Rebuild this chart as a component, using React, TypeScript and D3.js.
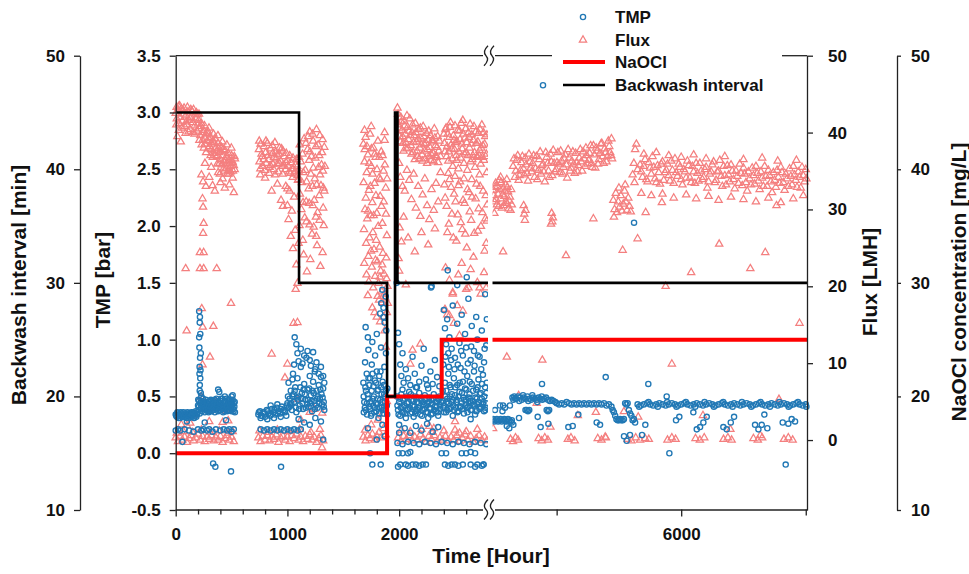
import React, { useEffect, useRef } from 'react';
import * as d3 from 'd3';

const W = 969;
const H = 574;
const FONT = '"Liberation Sans", Arial, Helvetica, sans-serif';
const TMP_COLOR = '#2178b5';
const FLUX_COLOR = '#f47f7f';

// plot frame
const plotLeft = 175.7;
const plotRight = 807;
const plotTop = 55.7;
const plotBottom = 510;
const breakX = 489;

// tick values
const timeTicksLeft = [0, 200, 400, 600, 800, 1000, 1200, 1400, 1600, 1800, 2000, 2200, 2400, 2600];
const timeTicksRight = [4000, 6000, 8000];
const timeLabels = [0, 1000, 2000, 6000];
const tmpTicks = [-0.5, 0, 0.5, 1.0, 1.5, 2.0, 2.5, 3.0, 3.5];
const fluxTicks = [0, 10, 20, 30, 40, 50];
const bwTicks = [10, 20, 30, 40, 50];
const naTicks = [10, 20, 30, 40, 50];

// step series
const bwTimes = [0, 1104, 1892, 1963, 1985, 8020];
const bwValues = [45, 30, 20, 45, 30, 30];
const naTimes = [0, 1892, 2381, 8020];
const naValues = [15, 20, 25, 25];

// Flux [LMH] (time h, flux)
const fluxRunA: [number, number][] = [
  [0,42.5],[10,41.8],[20,42.9],[30,41.2],[40,42.0],[50,43.1],[60,41.5],[70,42.4],[80,40.8],[90,42.2],[100,41.0],[110,42.7],[120,41.6],[130,40.4],[140,42.0],[150,41.3],[160,43.0],[170,40.9],[180,41.8],[190,40.2],[200,41.1],
  [15,39.5],[45,38.8],[25,43.4],[65,42.9],[105,43.3],[145,42.8],[185,42.6],
  [210,40.5],[220,39.6],[230,41.2],[240,39.0],[250,40.3],[260,38.5],[270,39.8],[280,38.9],[290,40.1],[300,38.2],[310,39.4],[320,37.8],[330,38.9],[340,37.3],[350,39.2],[360,38.0],[370,36.9],[380,38.6],[390,37.4],[400,36.5],[410,38.1],[420,37.0],[430,36.2],[440,37.7],[450,36.8],[460,35.9],[470,37.3],[480,36.4],[490,35.6],[500,37.0],[510,36.1],[520,35.7],[530,36.6],
  [205,41.6],[225,40.8],[245,40.0],[265,39.3],[285,39.9],[305,39.0],[325,38.5],[345,38.7],[365,37.6],[385,37.9],[405,37.6],[425,37.8],[445,36.4],[465,36.8],[485,36.0],[505,36.3],[525,36.9],
  [230,34.5],[245,33.6],[270,33.0],[300,34.2],[330,33.1],[350,32.4],[380,34.8],[400,33.5],[420,34.0],[440,32.8],[460,34.6],[480,33.2],[510,34.1],[520,32.2],
  [240,31.4],[245,30.3],[250,28.2],[245,26.9],[250,24.4],[250,22.3],[89,22.3],[217,24.4],[217,22.3],[367,22.3],
  [495,17.8],[98,14.2],[337,14.8],[233,17.1],[307,10.8],[242,14.7],[240,9.8],
  [225,5.6],[240,5.4],[160,3.2],[130,2.2],[300,2.4],[420,2.3],[470,2.5],[50,2.0],[100,1.9],[360,5.0],[450,3.8],
];
const fluxRunADense: [number, number][] = [
  [5,41.0],[35,43.5],[55,40.6],[75,43.2],[95,41.4],[115,40.1],[135,43.0],[155,40.0],[175,42.4],[195,42.3],[8,43.3],[28,40.3],[88,39.9],[128,41.9],[168,39.8],
  [212,39.0],[232,38.4],[252,38.0],[272,37.4],[292,37.9],[312,37.0],[332,36.8],[352,37.0],[372,35.9],[392,36.0],[412,35.8],[432,35.4],[452,35.3],[472,35.1],[492,34.9],[512,35.0],[528,35.2],
  [208,42.4],[258,40.9],[298,40.6],[338,39.8],[378,39.6],[418,38.8],[458,38.4],[498,38.0],[262,36.0],[318,35.5],[395,34.6],[435,35.0],[475,34.6],
];
const fluxRunB: [number, number][] = [
  [745,37.8],[760,38.5],[775,36.9],[790,38.2],[805,37.4],[820,38.6],[835,36.5],[850,37.9],[865,38.3],[880,36.8],[895,37.5],[910,35.9],[925,37.2],[940,36.3],[955,35.6],[970,36.9],[985,35.2],[1000,36.4],[1015,34.9],[1030,36.1],[1045,35.3],[1060,34.6],[1075,35.8],[1090,34.4],
  [750,36.2],[780,35.6],[810,36.0],[840,35.5],[870,35.9],[900,36.6],[930,38.0],[960,37.6],[990,37.3],[1020,37.0],[1050,36.7],[1080,36.5],[1100,35.0],
  [757,34.5],[800,34.1],[859,32.4],[889,34.5],[943,31.2],[910,33.3],[960,30.4],[1000,32.7],
  [985,33.0],[1000,30.5],[1010,28.7],[1020,32.4],[1030,26.5],[1040,29.8],[1050,24.9],[1060,31.6],[1070,27.3],[1080,22.8],[1090,20.4],[1095,33.8],[1100,25.6],[1110,38.4],[1120,36.2],[1130,33.5],[1140,30.9],[1150,39.2],[1160,35.1],[1170,28.4],[1180,37.8],[1190,32.7],[1200,40.1],[1210,34.6],[1220,26.8],[1230,38.9],[1240,31.2],[1250,36.7],[1260,40.4],[1270,29.6],[1280,35.5],[1290,39.6],[1300,33.1],[1310,37.4],[1320,30.2],[1330,38.1],
  [1145,24.1],[1175,21.9],[1205,23.5],[1235,27.7],[1265,25.3],[1295,22.6],[1325,27.9],[1185,39.5],[1215,36.9],[1245,34.0],[1275,38.4],[1305,35.8],[1125,30.0],[1155,28.9],[1195,30.8],[1225,33.0],[1255,29.0],[1285,31.8],[1315,24.4],
  [859,11.2],[978,8.1],[1000,9.9],[1074,19.6],[1055,15.2],[1090,15.3],[1095,5.3],[1200,3.6],[1311,3.5],[1120,2.6],[1240,4.0],[1290,1.4],
];
const fluxRunBDense: [number, number][] = [
  [748,38.9],[768,37.2],[788,36.5],[808,38.9],[828,37.0],[848,35.7],[868,37.3],[888,38.7],[908,37.1],[928,36.0],[948,37.9],[968,35.8],[988,36.1],[1008,35.6],[1028,34.7],[1048,34.2],[1068,34.9],[1088,35.6],[1098,33.9],[758,35.3],[798,35.1],[838,34.7],[878,35.2],[918,34.9],[958,34.6],
  [1105,36.8],[1135,37.2],[1165,38.6],[1195,36.4],[1225,39.8],[1255,38.2],[1285,37.0],[1315,39.1],[1335,35.6],[1112,32.0],[1142,34.8],[1172,33.6],[1202,37.5],[1232,35.4],[1262,33.2],[1292,34.5],[1322,32.8],[1108,27.9],[1138,26.0],[1168,31.0],[1198,28.0],[1228,30.5],[1258,26.5],[1288,28.6],[1318,35.0],[1330,32.4],
];
const fluxRunC: [number, number][] = [
  [1680,38.5],[1690,36.2],[1700,39.4],[1710,34.8],[1720,37.1],[1730,32.5],[1740,39.8],[1750,35.6],[1760,30.9],[1770,38.0],[1780,33.4],[1790,36.8],[1800,29.5],[1810,38.9],[1820,34.1],[1830,31.7],[1840,37.5],[1850,28.2],[1860,35.0],[1870,39.0],[1880,32.8],[1890,26.6],
  [1685,27.4],[1695,30.0],[1705,25.6],[1715,28.8],[1725,23.9],[1735,26.3],[1745,29.2],[1755,22.5],[1765,27.0],[1775,24.8],[1785,21.3],[1795,26.0],[1805,23.2],[1815,20.4],[1825,25.1],[1835,22.0],[1845,19.3],[1855,24.3],[1865,21.6],[1875,18.5],[1885,23.7],[1895,20.0],
  [1760,17.2],[1800,16.0],[1830,15.4],[1850,17.9],[1870,14.2],[1890,16.6],[1880,12.1],[1720,18.8],[1690,40.3],[1870,40.0],[1750,40.8],
  [1695,1.3],[1750,2.0],[1810,2.6],[1850,3.4],[1870,4.1],[1890,5.0],
  [1682,33.5],[1692,37.8],[1702,31.5],[1712,38.2],[1722,29.8],[1732,36.0],[1742,33.0],[1752,37.9],[1762,34.6],[1772,29.2],[1782,37.2],[1792,31.8],[1802,35.2],[1812,27.8],[1822,36.8],[1832,33.9],[1842,30.4],[1852,37.0],[1862,31.0],[1872,35.8],[1882,29.4],[1892,34.0],
  [1688,23.0],[1708,21.5],[1728,20.6],[1748,24.6],[1768,19.8],[1788,23.4],[1808,18.7],[1828,21.2],[1848,22.8],[1868,19.0],[1888,21.0],[1898,17.8],[1780,16.6],[1820,18.2],[1860,16.0],
];
const fluxRunD: [number, number][] = [
  [1985,43.2],[1995,41.0],[2005,39.5],[2015,42.0],[2025,40.3],[2035,38.6],[2045,41.5],[2055,39.8],[2065,37.9],[2075,40.7],[2085,39.1],[2095,41.8],[2105,38.3],[2115,40.0],[2125,37.4],[2135,39.6],[2145,41.2],[2155,38.8],[2165,36.9],[2175,40.4],[2185,38.0],[2195,39.3],[2205,37.1],[2215,40.8],[2225,38.5],[2235,36.6],[2245,39.9],[2255,37.8],[2265,40.2],[2275,38.1],[2285,36.4],[2295,39.0],[2305,37.3],[2315,40.5],[2325,38.3],[2335,36.8],[2345,39.5],[2355,37.6],
  [2000,36.0],[2010,34.2],[2030,33.0],[2050,32.4],[2070,35.1],[2090,33.8],[2110,31.3],[2130,34.6],[2150,30.2],[2170,33.0],[2190,29.1],[2210,31.9],[2230,34.0],[2250,30.5],[2270,28.7],[2290,32.6],[2310,29.9],[2330,33.4],[2350,31.0],[2370,34.8],[2005,27.6],[2020,25.8],[2040,29.0],[2080,26.3],[2200,27.0],[2260,25.4],[2320,27.5],[1995,23.6],[2000,22.0],[2060,20.2],[2120,11.7],[2140,24.5],
  [2400,39.8],[2410,37.5],[2420,40.6],[2430,38.2],[2440,36.3],[2450,39.4],[2460,41.3],[2470,37.9],[2480,35.6],[2490,39.0],[2500,40.9],[2510,37.0],[2520,38.8],[2530,35.3],[2540,40.2],[2550,36.7],[2560,38.5],[2570,41.6],[2580,36.0],[2590,39.3],[2600,37.4],[2610,35.1],[2620,40.0],[2630,38.0],[2640,36.2],[2650,39.7],[2660,37.0],[2670,40.8],[2680,35.5],[2690,38.6],[2700,36.9],[2710,39.9],[2720,37.7],[2730,35.9],[2740,41.0],[2750,38.3],[2760,36.4],[2770,39.5],[2780,37.2],[2785,34.8],
  [2405,33.2],[2425,30.4],[2445,28.1],[2465,32.9],[2485,26.3],[2505,31.0],[2525,29.3],[2545,33.6],[2565,27.4],[2585,30.8],[2605,25.0],[2625,32.2],[2645,28.6],[2665,23.8],[2685,31.4],[2705,27.2],[2725,33.0],[2745,29.6],[2765,24.6],[2775,31.8],[2785,28.5],[2415,22.4],[2450,20.8],[2480,19.2],[2530,21.5],[2560,23.0],[2600,19.6],[2640,22.2],[2700,20.5],[2760,21.8],[2780,19.8],[2780,25.6],[2440,34.7],[2500,34.3],[2580,34.0],[2650,33.9],[2720,34.5],
  [2410,17.0],[2430,16.3],[2450,16.2],[2480,19.0],[2490,15.2],[2520,17.5],[2540,13.6],[2570,16.8],[2620,19.8],[2720,19.8],[2730,19.0],[2100,9.9],[2190,12.5],[2500,2.4],[2540,0.9],[2270,1.8],[2310,1.5],
];
const fluxRunDDense: [number, number][] = [
  [1990,42.4],[2000,40.6],[2010,38.8],[2020,41.4],[2030,39.5],[2040,37.6],[2050,40.9],[2060,38.7],[2070,42.2],[2080,38.0],[2090,40.2],[2100,39.6],[2110,37.2],[2120,41.0],[2130,38.7],[2140,36.5],[2150,40.0],[2160,37.6],[2170,39.1],[2180,36.6],[2190,40.6],[2200,38.4],[2210,36.3],[2220,39.5],[2230,37.6],[2240,38.6],[2250,36.0],[2260,39.0],[2270,36.9],[2280,39.6],[2290,37.1],[2300,38.8],[2310,36.2],[2320,39.3],[2330,37.0],[2340,38.1],[2350,36.1],[2360,38.9],[2370,36.9],
  [2405,38.6],[2415,40.4],[2425,36.9],[2435,39.8],[2445,37.5],[2455,40.7],[2465,38.4],[2475,36.6],[2485,39.6],[2495,37.8],[2505,38.7],[2515,36.4],[2525,40.3],[2535,37.5],[2545,39.1],[2555,41.2],[2565,37.9],[2575,39.8],[2585,37.2],[2595,40.5],[2605,38.7],[2615,37.0],[2625,39.4],[2635,41.1],[2645,38.5],[2655,36.5],[2665,39.0],[2675,37.4],[2685,40.1],[2695,36.8],[2705,38.8],[2715,37.0],[2725,40.4],[2735,38.0],[2745,36.8],[2755,40.0],[2765,38.5],[2775,36.9],[2785,39.7],
  [2412,31.5],[2432,27.0],[2452,33.9],[2472,29.4],[2492,32.0],[2512,25.9],[2532,33.1],[2552,28.3],[2572,31.2],[2592,26.8],[2612,32.6],[2632,29.7],[2652,31.6],[2672,26.9],[2692,33.3],[2712,30.1],[2732,27.8],[2752,32.4],[2772,28.8],[2788,30.6],
];
const fluxRight: [number, number][] = [
  [2980,32.5],[3000,31.0],[3020,33.4],[3040,30.6],[3060,32.0],[3080,33.8],[3100,31.4],[3120,30.2],[3140,32.8],[3160,31.7],[3180,33.2],[3200,30.8],[3220,32.3],[3240,31.1],[3260,29.9],[3280,30.6],[3000,29.5],[3100,34.2],[3200,33.9],
  [3300,35.6],[3330,34.2],[3360,36.4],[3390,33.8],[3420,35.1],[3450,36.9],[3480,34.5],[3510,35.8],[3540,33.7],[3570,36.2],[3600,34.9],[3630,37.0],[3660,35.3],[3690,33.9],[3720,36.5],[3750,34.6],[3780,35.9],[3810,33.6],[3840,36.8],[3870,35.0],[3900,37.2],[3930,34.4],[3960,36.0],[3990,35.2],[4020,37.4],[4050,34.8],[4080,36.3],[4110,35.5],[4140,37.1],[4170,34.1],[4200,36.7],[4230,35.4],[4260,37.5],[4290,34.7],[4320,36.1],[4350,35.7],[4380,37.8],[4410,35.0],[4440,36.6],[4470,38.0],[4500,35.9],[4530,37.3],[4560,36.0],[4590,38.3],[4620,35.4],[4650,37.6],[4680,36.5],[4710,38.5],[4740,36.9],[4770,37.9],[4800,36.2],[4830,38.9],[4860,37.4],[4880,39.2],[4890,36.6],
  [3470,30.5],[3480,29.4],[3490,28.6],[3500,29.9],[3920,29.5],[3930,28.4],[3940,28.9],[3910,28.1],
  [4910,31.2],[4930,30.0],[4950,32.1],[4970,29.6],[4990,31.0],[5010,30.3],[5030,31.8],[5050,29.8],[5070,30.7],[5090,32.4],[5110,31.0],[5130,29.9],[5150,31.5],[5170,30.4],[5190,29.7],[4920,29.0],[5000,32.8],[5100,33.2],
  [5220,34.5],[5240,36.0],[5260,37.8],[5280,38.5],[5250,33.5],[5300,35.2],
  [5340,35.8],[5380,34.2],[5420,36.5],[5460,33.6],[5500,35.4],[5540,36.9],[5580,34.0],[5620,35.7],[5660,33.3],[5700,36.2],[5740,34.8],[5780,35.9],[5820,33.7],[5860,35.1],[5900,36.6],[5940,34.3],[5980,35.5],[6020,33.2],[6060,34.9],[6100,36.3],[6140,34.1],[6180,35.6],[6220,33.4],[6260,34.7],[6300,36.0],[6340,33.9],[6380,35.2],[6420,32.8],[6460,34.6],[6500,35.8],[6540,33.5],[6580,34.9],[6620,36.4],[6660,33.0],[6700,34.4],[6740,35.7],[6780,33.6],[6820,35.0],[6860,32.7],[6900,34.3],[6940,35.9],[6980,33.1],[7020,34.6],[7060,32.4],[7100,34.0],[7140,35.4],[7180,33.3],[7220,34.7],[7260,32.6],[7300,34.1],[7340,35.6],[7380,33.0],[7420,34.4],[7460,32.2],[7500,33.8],[7540,35.1],[7580,33.4],[7620,34.8],[7660,32.5],[7700,34.0],[7740,35.3],[7780,33.2],[7820,34.5],[7860,32.9],[7900,34.2],[7940,35.5],[7980,33.6],[8010,34.0],
  [5360,32.1],[5520,31.8],[5700,32.0],[5880,31.5],[6080,31.9],[6240,31.4],[6440,31.7],[6600,31.2],[6800,31.6],[7000,31.3],[7200,31.0],[7400,31.5],[7600,30.9],[7800,31.4],[7960,31.8],
  [5400,37.2],[5600,37.4],[5800,37.0],[6000,36.8],[6200,37.1],[6400,36.6],[6700,36.9],[7000,36.5],[7300,36.7],[7550,36.3],[7850,36.4],
  [3140,24.5],[4150,24.0],[4590,28.8],[5060,24.7],[5300,26.2],[5430,29.6],[5690,30.9],[5750,20.0],[6160,21.8],[6610,25.5],[7110,22.3],[7350,24.4],[7530,30.5],
  [3200,10.8],[3770,10.4],[5850,9.9],[7900,15.2],[3390,5.8],[3680,4.8],[4340,3.2],[4630,3.6],[3900,1.7],[4780,0.4],[5080,3.7],[5310,3.0],[6350,3.2],[6790,1.4],[7270,0.6],[7570,5.3],[2980,1.5],
];
const fluxRightDense: [number, number][] = [
  [2990,31.8],[3010,32.9],[3030,31.3],[3050,33.0],[3070,30.4],[3090,32.6],[3110,33.5],[3130,31.9],[3150,30.5],[3170,32.4],[3190,31.0],[3210,32.9],[3230,30.1],[3250,31.6],[3270,32.6],
  [3315,36.6],[3345,35.0],[3375,37.0],[3405,34.4],[3435,36.1],[3465,35.3],[3495,36.7],[3525,34.7],[3555,37.2],[3585,35.4],[3615,36.0],[3645,34.2],[3675,36.9],[3705,35.1],[3735,37.5],[3765,35.7],[3795,34.9],[3825,37.4],[3855,36.0],[3885,34.2],[3915,36.2],[3945,37.7],[3975,34.9],[4005,36.1],[4035,35.9],[4065,37.6],[4095,34.6],[4125,36.6],[4155,35.8],[4185,37.8],[4215,35.0],[4245,36.3],[4275,35.9],[4305,37.3],[4335,34.9],[4365,36.7],[4395,36.2],[4425,37.5],[4455,35.6],[4485,37.0],[4515,36.4],[4545,38.3],[4575,35.5],[4605,37.1],[4635,38.0],[4665,35.9],[4695,37.3],[4725,38.6],[4755,36.0],[4785,37.4],[4815,36.9],[4845,38.2],[4875,37.0],
  [5360,34.9],[5400,35.6],[5440,33.9],[5480,36.1],[5520,34.6],[5560,35.5],[5600,33.5],[5640,34.8],[5680,35.9],[5720,33.8],[5760,35.1],[5800,34.4],[5840,36.3],[5880,33.4],[5920,34.8],[5960,35.9],[6000,33.9],[6040,35.2],[6080,34.1],[6120,35.7],[6160,33.5],[6200,34.9],[6240,36.0],[6280,33.7],[6320,35.0],[6360,34.2],[6400,35.5],[6440,33.6],[6480,34.9],[6520,36.2],[6560,33.8],[6600,35.0],[6640,34.3],[6680,35.6],[6720,33.2],[6760,34.5],[6800,35.8],[6840,33.9],[6880,35.0],[6920,33.4],[6960,34.7],[7000,35.4],[7040,33.5],[7080,34.9],[7120,33.2],[7160,34.4],[7200,35.6],[7240,33.7],[7280,34.9],[7320,33.0],[7360,34.3],[7400,35.1],[7440,33.6],[7480,34.8],[7520,32.9],[7560,34.2],[7600,35.5],[7640,33.5],[7680,34.6],[7720,33.0],[7760,34.3],[7800,35.6],[7840,33.8],[7880,34.9],[7920,32.8],[7960,34.4],[8000,35.2],
];
// flux readings near zero (idle periods)
const fluxIdle: [number, number][] = [
  [0,0.3],[20,-0.2],[40,0.5],[60,0.0],[80,0.4],[100,-0.3],[120,0.2],[140,0.6],[160,-0.1],[180,0.3],[200,0.8],[220,0.0],[240,0.5],[260,-0.2],[280,0.4],[300,0.1],[320,0.6],[340,-0.1],[360,0.3],[380,0.0],[400,0.5],[420,-0.3],[440,0.2],[460,0.6],[480,0.0],[500,0.4],[520,-0.2],[10,0.9],[70,1.1],[150,1.0],[230,1.3],[310,1.0],[390,1.2],[470,0.9],[510,1.1],
  [740,0.3],[760,-0.2],[780,0.5],[800,0.0],[820,0.6],[840,-0.1],[860,0.4],[880,0.1],[900,0.7],[920,-0.3],[940,0.3],[960,0.5],[980,0.0],[1000,0.4],[1020,-0.2],[1040,0.6],[1060,0.2],[1080,0.8],[1100,0.0],[1120,0.4],[1140,-0.2],[1160,0.5],[1180,0.1],[1200,0.7],[1220,0.0],[1240,0.4],[1260,-0.3],[1280,0.2],[1300,0.6],[1320,-0.1],[750,1.2],[830,1.0],[910,1.3],[1010,1.1],[1110,1.4],[1210,1.0],[1310,-1.0],
  [1680,0.4],[1700,-0.1],[1720,0.6],[1740,0.2],[1760,0.8],[1780,0.0],[1800,0.5],[1820,1.0],[1840,0.3],[1860,1.5],[1880,0.7],
  [1990,0.3],[2015,-0.2],[2040,0.5],[2065,0.1],[2090,0.6],[2115,-0.1],[2140,0.4],[2165,0.0],[2190,0.7],[2215,0.2],[2240,-0.3],[2265,0.5],[2290,0.1],[2315,0.6],[2340,-0.2],[2365,0.3],[2390,0.0],[2415,0.5],[2440,-0.1],[2465,0.4],[2490,0.0],[2515,0.6],[2540,-0.2],[2565,0.3],[2590,0.7],[2615,0.0],[2640,0.5],[2665,-0.3],[2690,0.2],[2715,0.6],[2740,0.0],[2765,0.4],[2785,-0.1],[2020,1.3],[2100,1.1],[2200,1.4],[2300,1.0],[2400,1.2],[2500,1.3],[2600,1.1],[2700,1.4],
  [3260,0.1],[3300,-0.2],[3340,0.3],[3380,0.0],[3710,0.2],[3760,-0.1],[3810,0.3],[3860,0.0],[4180,0.1],[4230,0.3],[4290,-0.1],[4660,0.2],[4720,0.0],[4790,0.3],[5140,0.1],[5200,-0.1],[5270,0.3],[5340,0.0],[5420,0.2],[5480,0.1],[5780,0.0],[5850,0.3],[5910,0.1],[6230,0.2],[6300,0.0],[6370,0.3],[6680,0.1],[6750,0.3],[6810,0.0],[7160,0.2],[7230,0.0],[7300,0.3],[7650,0.1],[7720,0.3],[7790,0.0],
];

// TMP [bar] (time h, TMP)
const tmpRunA: [number, number][] = [
  [0,0.34],[10,0.32],[20,0.35],[30,0.33],[40,0.31],[50,0.35],[60,0.33],[70,0.36],[80,0.32],[90,0.34],[100,0.33],[110,0.35],[120,0.31],[130,0.34],[140,0.36],[150,0.32],[160,0.35],[170,0.33],[180,0.37],[190,0.34],
  [200,0.42],[205,0.38],[210,0.46],[215,0.35],[220,0.44],[225,0.40],[230,0.50],[235,0.37],[240,0.43],[245,0.48],[250,0.39],[255,0.45],[260,0.36],[265,0.42],[270,0.47],[275,0.40],[280,0.38],[285,0.44],[290,0.41],[295,0.36],[300,0.45],[305,0.39],[310,0.42],[315,0.47],[320,0.37],[325,0.43],[330,0.40],[335,0.46],[340,0.38],[345,0.42],[350,0.36],[355,0.44],[360,0.41],[365,0.48],[370,0.39],[375,0.43],[380,0.37],[385,0.45],[390,0.40],[395,0.42],[400,0.46],[405,0.38],[410,0.43],[415,0.41],[420,0.48],[425,0.36],[430,0.44],[435,0.40],[440,0.46],[445,0.39],[450,0.42],[455,0.48],[460,0.37],[465,0.44],[470,0.41],[475,0.47],[480,0.38],[485,0.43],[490,0.40],[495,0.45],[500,0.37],[505,0.42],[510,0.47],[515,0.39],[520,0.44],[525,0.41],[530,0.36],
  [215,0.55],[225,0.53],[380,0.56],[390,0.54],[440,0.50],[500,0.50],[510,0.51],
  [210,1.25],[215,1.15],[220,1.05],[212,0.93],[218,0.84],[214,0.76],[222,0.73],[216,0.60],[210,1.02],[225,0.88],[220,0.66],[217,1.20],[213,0.70],
  [0,0.20],[20,0.21],[40,0.20],[80,0.21],[120,0.20],[160,0.19],[200,0.21],[230,0.20],[250,0.21],[280,0.20],[300,0.21],[330,0.19],[360,0.21],[400,0.20],[430,0.21],[460,0.20],[480,0.21],[500,0.19],[520,0.21],
  [60,0.10],[100,0.28],[260,0.27],[450,0.29],[335,-0.09],[355,-0.12],[495,-0.16],
  [202,0.47],[208,0.41],[228,0.46],[238,0.42],[248,0.44],[258,0.40],[268,0.38],[278,0.45],[288,0.37],[298,0.42],[308,0.46],[318,0.41],[328,0.38],[338,0.43],[348,0.47],[358,0.39],[368,0.43],[378,0.46],[388,0.38],[398,0.44],[408,0.48],[418,0.39],[428,0.42],[438,0.37],[448,0.45],[458,0.41],[468,0.38],[478,0.44],[488,0.47],[498,0.40],[508,0.43],[518,0.37],[528,0.45],
  [5,0.33],[15,0.36],[25,0.31],[35,0.34],[45,0.36],[55,0.32],[65,0.34],[75,0.33],[85,0.35],[95,0.31],[105,0.36],[115,0.33],[125,0.35],[135,0.32],[145,0.34],[155,0.36],[165,0.31],[175,0.35],[185,0.32],[195,0.36],
];
const tmpRunB: [number, number][] = [
  [740,0.34],[755,0.37],[770,0.33],[785,0.36],[800,0.32],[815,0.38],[830,0.35],[845,0.33],[860,0.39],[875,0.36],[890,0.34],[905,0.40],[920,0.37],[935,0.35],[950,0.41],[965,0.38],[980,0.36],[995,0.42],[760,0.31],[820,0.30],[880,0.31],[940,0.32],[990,0.33],[850,0.42],[910,0.43],[1000,0.44],[1010,0.40],
  [1010,0.62],[1020,0.48],[1030,0.55],[1040,0.38],[1050,0.70],[1060,0.45],[1070,0.58],[1080,0.36],[1090,0.66],[1100,0.50],[1110,0.42],[1120,0.76],[1130,0.53],[1140,0.39],[1150,0.61],[1160,0.47],[1170,0.84],[1180,0.56],[1190,0.41],[1200,0.68],[1210,0.51],[1220,0.37],[1230,0.63],[1240,0.46],[1250,0.74],[1260,0.55],[1270,0.40],[1280,0.60],[1290,0.48],[1300,0.67],[1310,0.43],[1320,0.57],[1330,0.38],
  [1015,0.41],[1035,0.44],[1055,0.52],[1075,0.40],[1095,0.47],[1115,0.58],[1135,0.44],[1155,0.52],[1175,0.43],[1195,0.57],[1215,0.46],[1235,0.53],[1255,0.42],[1275,0.50],[1295,0.56],[1315,0.49],[1325,0.45],
  [1065,1.02],[1080,0.96],[1090,0.88],[1100,0.81],[1120,0.92],[1135,0.79],[1150,0.86],[1180,0.90],[1200,0.82],[1210,0.77],[1230,0.89],[1245,0.72],[1260,0.80],[1280,0.70],[1300,0.76],[1320,0.68],[1060,0.78],[1045,0.65],[1330,0.62],
  [1100,0.30],[1150,0.27],[1200,0.25],[1250,0.31],[1300,0.28],[1320,0.12],
  [760,0.21],[790,0.20],[820,0.21],[850,0.20],[880,0.21],[910,0.20],[940,0.21],[970,0.20],[1000,0.21],[1030,0.20],[1060,0.21],[1090,0.20],[1120,0.21],[943,-0.12],
  [745,0.36],[765,0.33],[795,0.35],[825,0.37],[855,0.34],[885,0.38],[915,0.35],[945,0.39],[975,0.37],[1005,0.50],[1025,0.43],[1045,0.50],[1065,0.55],[1085,0.49],[1105,0.39],[1125,0.48],[1145,0.56],[1165,0.40],[1185,0.47],[1205,0.44],[1225,0.55],[1245,0.39],[1265,0.48],[1285,0.44],[1305,0.52],[1325,0.41],
];
const tmpRunC: [number, number][] = [
  [1680,0.62],[1688,0.45],[1695,0.80],[1702,0.38],[1710,0.70],[1718,0.52],[1725,0.91],[1732,0.41],[1740,0.66],[1748,0.33],[1755,0.78],[1762,0.48],[1770,0.59],[1778,0.36],[1785,0.86],[1792,0.44],[1800,0.72],[1808,0.55],[1815,0.31],[1822,0.68],[1830,0.47],[1838,0.93],[1845,0.40],[1852,0.63],[1860,0.35],[1868,0.76],[1875,0.50],[1882,0.88],[1890,0.42],
  [1684,0.36],[1698,0.58],[1712,0.44],[1726,0.66],[1740,0.39],[1754,0.55],[1768,0.42],[1782,0.64],[1796,0.37],[1810,0.48],[1824,0.40],[1838,0.58],[1852,0.45],[1866,0.52],[1880,0.38],[1894,0.57],
  [1700,1.11],[1720,1.02],[1760,0.98],[1800,1.05],[1830,1.23],[1840,1.32],[1850,1.44],[1860,1.28],[1870,1.15],[1880,1.38],[1885,1.08],[1860,1.20],
  [1760,-0.1],[1835,-0.1],[1740,0.0],[1800,0.12],[1870,0.15],[1720,0.22],[1850,0.25],
  [1683,0.50],[1693,0.40],[1703,0.55],[1713,0.34],[1723,0.48],[1733,0.60],[1743,0.45],[1753,0.35],[1763,0.70],[1773,0.50],[1783,0.40],[1793,0.62],[1803,0.43],[1813,0.56],[1823,0.35],[1833,0.72],[1843,0.52],[1853,0.38],[1863,0.60],[1873,0.45],[1883,0.55],[1893,0.34],
];
const tmpRunD: [number, number][] = [
  [1980,0.50],[1990,0.38],[2000,0.45],[2010,0.33],[2020,0.52],[2030,0.41],[2040,0.36],[2050,0.48],[2060,0.31],[2070,0.44],[2080,0.39],[2090,0.54],[2100,0.35],[2110,0.47],[2120,0.42],[2130,0.32],[2140,0.50],[2150,0.37],[2160,0.45],[2170,0.40],[2180,0.53],[2190,0.34],[2200,0.46],[2210,0.38],[2220,0.43],[2230,0.51],[2240,0.36],[2250,0.44],[2260,0.31],[2270,0.49],[2280,0.39],[2290,0.47],[2300,0.35],[2310,0.52],[2320,0.41],[2330,0.37],[2340,0.46],[2350,0.33],[2360,0.50],[2370,0.42],
  [1990,1.06],[2000,0.96],[2010,0.78],[2020,0.68],[2030,0.88],[2040,0.62],[2060,0.74],[2080,0.66],[2100,0.60],[2120,0.85],[2140,0.70],[2160,0.58],[2180,0.63],[2200,0.77],[2220,0.92],[2240,0.65],[2260,0.57],[2280,0.72],[2300,0.61],[2320,0.82],[2340,0.67],[2360,0.59],[2000,0.25],[2050,0.22],[2100,0.18],[2150,0.24],[2200,0.20],[2250,0.26],[2300,0.19],[2350,0.23],[2000,0.18],[1978,1.50],[2291,1.47],
  [2390,0.55],[2400,0.42],[2410,0.62],[2420,0.36],[2430,0.48],[2440,0.70],[2450,0.39],[2460,0.58],[2470,0.45],[2480,0.33],[2490,0.66],[2500,0.51],[2510,0.40],[2520,0.60],[2530,0.37],[2540,0.54],[2550,0.75],[2560,0.44],[2570,0.63],[2580,0.35],[2590,0.57],[2600,0.47],[2610,0.68],[2620,0.41],[2630,0.52],[2640,0.38],[2650,0.61],[2660,0.46],[2670,0.72],[2680,0.34],[2690,0.56],[2700,0.43],[2710,0.65],[2720,0.39],[2730,0.53],[2740,0.48],[2750,0.69],[2760,0.37],[2770,0.58],[2780,0.44],[2785,0.62],
  [2395,0.40],[2425,0.45],[2455,0.50],[2485,0.42],[2515,0.47],[2545,0.41],[2575,0.49],[2605,0.40],[2635,0.46],[2665,0.43],[2695,0.48],[2725,0.41],[2755,0.45],[2775,0.40],
  [2400,1.26],[2410,1.10],[2420,0.96],[2430,1.18],[2440,0.88],[2450,1.02],[2470,0.92],[2480,1.30],[2500,0.84],[2520,1.14],[2540,0.97],[2560,1.22],[2570,0.86],[2590,1.05],[2600,0.93],[2620,1.36],[2640,0.82],[2650,1.12],[2670,0.90],[2690,1.20],[2700,1.00],[2720,0.85],[2740,1.08],[2760,0.80],[2770,1.40],[2780,0.95],[2785,1.18],[2520,1.48],[2435,1.61],[2285,1.46],[2605,1.55],[2640,0.30],
  [1985,0.09],[2030,0.08],[2080,0.10],[2130,0.09],[2180,0.08],[2230,0.10],[2280,0.09],[2330,0.08],[2380,0.10],[2430,0.09],[2480,0.08],[2530,0.10],[2580,0.09],[2630,0.08],[2680,0.10],[2730,0.09],[2780,0.08],
  [1995,0.0],[2030,0.0],[2080,0.0],[2100,0.01],[2380,0.0],[2420,0.0],[2560,0.0],[2600,0.0],[2640,0.01],[2680,0.0],
  [1990,-0.12],[2010,-0.10],[2060,-0.10],[2080,-0.11],[2120,-0.10],[2150,-0.10],[2180,-0.11],[2210,-0.10],[2240,-0.10],[2410,-0.10],[2440,-0.11],[2470,-0.10],[2500,-0.10],[2530,-0.11],[2570,-0.10],[2640,-0.10],[2680,-0.12],[2700,-0.10],[2740,-0.11],[2755,-0.10],
];
const tmpRunDDense: [number, number][] = [
  [1985,0.42],[1995,0.34],[2005,0.48],[2015,0.40],[2025,0.36],[2035,0.47],[2045,0.42],[2055,0.35],[2065,0.50],[2075,0.38],[2085,0.45],[2095,0.40],[2105,0.52],[2115,0.36],[2125,0.46],[2135,0.41],[2145,0.35],[2155,0.49],[2165,0.38],[2175,0.44],[2185,0.40],[2195,0.48],[2205,0.33],[2215,0.45],[2225,0.39],[2235,0.47],[2245,0.42],[2255,0.36],[2265,0.45],[2275,0.40],[2285,0.34],[2295,0.43],[2305,0.48],[2315,0.38],[2325,0.45],[2335,0.41],[2345,0.36],[2355,0.47],[2365,0.39],[2375,0.45],
  [2392,0.46],[2402,0.36],[2412,0.50],[2422,0.55],[2432,0.38],[2442,0.44],[2452,0.60],[2462,0.40],[2472,0.52],[2482,0.47],[2492,0.38],[2502,0.58],[2512,0.45],[2522,0.36],[2532,0.50],[2542,0.62],[2552,0.41],[2562,0.53],[2572,0.39],[2582,0.47],[2592,0.42],[2602,0.56],[2612,0.36],[2622,0.49],[2632,0.63],[2642,0.44],[2652,0.38],[2662,0.55],[2672,0.42],[2682,0.49],[2692,0.37],[2702,0.58],[2712,0.45],[2722,0.52],[2732,0.40],[2742,0.61],[2752,0.43],[2762,0.50],[2772,0.38],[2782,0.53],
  [2395,0.78],[2415,0.85],[2445,0.76],[2465,0.82],[2495,0.74],[2525,0.78],[2555,0.90],[2585,0.72],[2615,0.79],[2645,0.94],[2675,0.77],[2705,0.86],[2735,0.74],[2765,0.92],[2030,0.56],[2150,0.58],[2250,0.60],
];
const tmpRight: [number, number][] = [
  [2960,0.29],[2980,0.30],[3000,0.28],[3020,0.29],[3040,0.30],[3060,0.28],[3080,0.29],[3100,0.30],[3120,0.28],[3140,0.29],[3160,0.30],[3180,0.29],[3200,0.28],[3220,0.30],[3240,0.29],[3260,0.28],[3280,0.29],
  [3010,0.38],[3090,0.42],[3130,0.37],[3140,0.42],[3170,0.40],[3200,0.24],[3240,0.22],[3280,0.27],[3250,0.42],
  [3290,0.49],[3320,0.50],[3350,0.48],[3380,0.50],[3410,0.49],[3440,0.47],[3470,0.49],[3500,0.48],[3530,0.50],[3560,0.48],[3590,0.47],[3620,0.49],[3650,0.48],[3680,0.47],[3710,0.49],[3740,0.48],[3770,0.47],[3800,0.48],[3830,0.49],[3860,0.47],[3890,0.46],[3920,0.47],[3950,0.46],[3980,0.45],
  [3305,0.47],[3335,0.48],[3400,0.46],[3460,0.51],[3545,0.46],[3610,0.51],[3690,0.45],[3760,0.50],
  [3500,0.38],[3520,0.38],[3540,0.37],[3560,0.38],[3840,0.38],[3860,0.37],[3880,0.38],
  [4000,0.44],[4040,0.43],[4080,0.44],[4120,0.43],[4160,0.45],[4200,0.44],[4240,0.43],[4280,0.44],[4320,0.43],[4360,0.44],[4400,0.43],[4440,0.44],[4480,0.43],[4520,0.44],[4560,0.43],[4600,0.44],[4640,0.43],[4680,0.44],[4720,0.43],[4760,0.44],[4800,0.42],[4840,0.43],[4880,0.41],
  [4900,0.38],[4920,0.36],[4940,0.33],[4960,0.30],[4980,0.29],[5000,0.29],[5020,0.30],[5040,0.29],[5060,0.29],[5080,0.30],
  [5100,0.44],[5120,0.43],[5140,0.44],[5160,0.38],[5180,0.35],[5200,0.33],[5220,0.29],[5240,0.30],[5260,0.27],
  [5300,0.43],[5350,0.42],[5400,0.43],[5450,0.44],[5500,0.43],[5550,0.42],[5600,0.43],[5650,0.44],[5700,0.43],[5750,0.42],[5800,0.43],[5850,0.44],[5900,0.43],[5950,0.42],[6000,0.43],[6050,0.44],[6100,0.43],[6150,0.42],[6200,0.43],[6250,0.44],[6300,0.43],[6350,0.42],[6400,0.43],[6450,0.44],[6500,0.43],[6550,0.42],[6600,0.43],[6650,0.44],[6700,0.43],[6750,0.42],[6800,0.43],[6850,0.44],[6900,0.43],[6950,0.42],[7000,0.43],[7050,0.44],[7100,0.43],[7150,0.42],[7200,0.43],[7250,0.44],[7300,0.43],[7350,0.42],[7400,0.43],[7450,0.44],[7500,0.43],[7550,0.42],[7600,0.43],[7650,0.44],[7700,0.43],[7750,0.42],[7800,0.43],[7850,0.44],[7900,0.43],[7950,0.42],[8000,0.43],
  [5325,0.41],[5475,0.45],[5625,0.41],[5775,0.45],[5925,0.41],[6075,0.45],[6225,0.41],[6375,0.45],[6525,0.41],[6675,0.45],[6825,0.41],[6975,0.45],[7125,0.41],[7275,0.45],[7425,0.41],[7575,0.45],[7725,0.41],[7875,0.45],[8010,0.41],
  [3305,0.25],[3396,0.31],[3696,0.32],[3765,0.61],[3743,0.23],[3867,0.26],[4188,0.23],[4258,0.24],[4348,0.34],[4643,0.27],[4697,0.25],[4788,0.67],[5082,0.15],[5178,0.16],[5125,0.11],[5371,0.16],[5424,0.25],[5472,0.61],[5767,0.50],[5810,0.0],[5917,0.29],[5970,0.32],[6195,0.36],[6250,0.21],[6303,0.23],[6356,0.27],[6410,0.32],[6677,0.23],[6731,0.21],[6796,0.27],[6849,0.32],[7186,0.25],[7240,0.21],[7293,0.25],[7335,0.34],[7383,0.22],[7630,0.27],[7678,-0.1],[7720,0.26],[7774,0.30],[7828,0.28],
  [5243,2.03],[3781,3.24],[2755,-0.1],
];

const fluxAll = [...fluxIdle, ...fluxRunA, ...fluxRunADense, ...fluxRunB, ...fluxRunBDense, ...fluxRunC,
  ...fluxRunD, ...fluxRunDDense, ...fluxRight, ...fluxRightDense];
const tmpAll = [...tmpRunA, ...tmpRunB, ...tmpRunC, ...tmpRunD, ...tmpRunDDense, ...tmpRight];

// scales
const xLeft = d3.scaleLinear().domain([0, 2790]).range([plotLeft, 487.4]);
const xRight = d3.scaleLinear().domain([2930, 8020]).range([490, plotRight]);
const xT = (t: number) => (t <= 2860 ? xLeft(t) : xRight(t));
const yTmp = d3.scaleLinear().domain([-0.5, 3.5]).range([plotBottom, plotTop]);
const yFlux = d3.scaleLinear().domain([-9.1, 50]).range([plotBottom, plotTop]);
const yBw = d3.scaleLinear().domain([10, 50]).range([plotBottom, plotTop]);
const yNa = d3.scaleLinear().domain([10, 50]).range([plotBottom, plotTop]);

const triPath = d3.symbol(d3.symbolTriangle, 23)() as string;

const stepLine = (times: number[], values: number[], y: d3.ScaleLinear<number, number>) =>
  d3.line<number>().x((_, i) => xT(times[i])).y((_, i) => y(values[i])).curve(d3.curveStepAfter)(values) as string;

const breakPath = (x: number, y: number) =>
  [-3, 3].map(dx => `M${x + dx + 2},${y - 10} Q${x + dx - 4},${y - 4} ${x + dx},${y} Q${x + dx + 4},${y + 4} ${x + dx - 2},${y + 10}`).join(' ');

export default function App() {
  const axesRef = useRef<SVGGElement>(null);

  useEffect(() => {
    const g = d3.select(axesRef.current);
    g.selectAll('*').remove();

    g.append('g').attr('transform', 'translate(80,0)')
      .call(d3.axisLeft(yBw).tickValues(bwTicks).tickSize(6).tickPadding(9).tickSizeOuter(0));
    g.append('g').attr('transform', `translate(${plotLeft},0)`)
      .call(d3.axisLeft(yTmp).tickValues(tmpTicks).tickSize(6).tickPadding(9).tickSizeOuter(0)
        .tickFormat(d => (+d).toFixed(1)));
    g.append('g').attr('transform', `translate(${plotRight},0)`)
      .call(d3.axisRight(yFlux).tickValues(fluxTicks).tickSize(6).tickPadding(15).tickSizeOuter(0));
    g.append('g').attr('transform', 'translate(897,0)')
      .call(d3.axisRight(yNa).tickValues(naTicks).tickSize(4).tickPadding(10).tickSizeOuter(0));

    const fmt = (d: d3.NumberValue) => (timeLabels.includes(+d) ? String(d) : '');
    const bl = g.append('g').attr('transform', `translate(0,${plotBottom - 0.5})`)
      .call(d3.axisBottom(xLeft).tickValues(timeTicksLeft).tickSize(5).tickPadding(13).tickSizeOuter(0).tickFormat(fmt));
    const br = g.append('g').attr('transform', `translate(0,${plotBottom - 0.5})`)
      .call(d3.axisBottom(xRight).tickValues(timeTicksRight).tickSize(6).tickPadding(12).tickSizeOuter(0).tickFormat(fmt));
    [bl, br].forEach(a => a.selectAll<SVGGElement, number>('.tick')
      .filter(d => timeLabels.includes(d)).select('line').attr('y2', 7));

    g.selectAll('text')
      .attr('font-family', FONT).attr('font-size', 17).attr('font-weight', 'bold').attr('fill', '#111');
    g.selectAll('path.domain, .tick line').attr('stroke', '#222').attr('stroke-width', 1.3);
  }, []);

  const lbl = { fontFamily: FONT, fontSize: 21, fontWeight: 'bold' as const, fill: '#111' };
  const leg = { fontFamily: FONT, fontSize: 17, fontWeight: 'bold' as const, fill: '#111' };

  return (
    <svg width={W} height={H} style={{ position: 'absolute', left: 0, top: 0, background: '#fff' }}>
      <rect width={W} height={H} fill="#fff" />

      {fluxAll.map(([t, v], i) => (
        <path key={'f' + i} d={triPath} transform={`translate(${xT(t)},${yFlux(v)})`}
          fill="none" stroke={FLUX_COLOR} strokeWidth={1.25} />
      ))}
      {tmpAll.map(([t, v], i) => (
        <circle key={'t' + i} cx={xT(t)} cy={yTmp(v)} r={2.6}
          fill="none" stroke={TMP_COLOR} strokeWidth={1.35} />
      ))}

      <path d={stepLine(naTimes, naValues, yNa)} fill="none" stroke="#ff0000" strokeWidth={4} />
      <path d={stepLine(bwTimes, bwValues, yBw)} fill="none" stroke="#000" strokeWidth={2.6} />

      {/* gap of the axis break */}
      <rect x={breakX - 1} y={plotTop + 2} width={4.5} height={plotBottom - plotTop - 4} fill="#fff" />

      {/* frame top and right */}
      <line x1={plotLeft} x2={552} y1={plotTop} y2={plotTop} stroke="#222" strokeWidth={1.3} />
      <line x1={782} x2={plotRight} y1={plotTop} y2={plotTop} stroke="#222" strokeWidth={1.3} />

      <g ref={axesRef} />

      {/* break marks */}
      {[plotTop, plotBottom - 0.5].map((y, i) => (
        <g key={'b' + i}>
          <rect x={breakX - 6} y={y - 2} width={12} height={4} fill="#fff" />
          <path d={breakPath(breakX, y)} fill="none" stroke="#222" strokeWidth={1.3} />
        </g>
      ))}

      {/* axis titles */}
      <text transform="translate(26,285) rotate(-90)" textAnchor="middle" {...lbl}>Backwash interval [min]</text>
      <text transform="translate(110,280) rotate(-90)" textAnchor="middle" {...lbl}>TMP [bar]</text>
      <text transform="translate(877,282) rotate(-90)" textAnchor="middle" {...lbl}>Flux [LMH]</text>
      <text transform="translate(966,282) rotate(-90)" textAnchor="middle" {...lbl}>NaOCl concentration [mg/L]</text>
      <text x={491} y={563} textAnchor="middle" {...lbl}>Time [Hour]</text>

      {/* legend */}
      <circle cx={583} cy={17} r={2.6} fill="none" stroke={TMP_COLOR} strokeWidth={1.35} />
      <text x={615} y={23} {...leg}>TMP</text>
      <path d={triPath} transform="translate(583,40)" fill="none" stroke={FLUX_COLOR} strokeWidth={1.25} />
      <text x={615} y={46} {...leg}>Flux</text>
      <line x1={563} x2={605} y1={62} y2={62} stroke="#ff0000" strokeWidth={4} />
      <text x={615} y={68} {...leg}>NaOCl</text>
      <line x1={563} x2={605} y1={85} y2={85} stroke="#000" strokeWidth={2.6} />
      <text x={615} y={91} {...leg}>Backwash interval</text>
    </svg>
  );
}
